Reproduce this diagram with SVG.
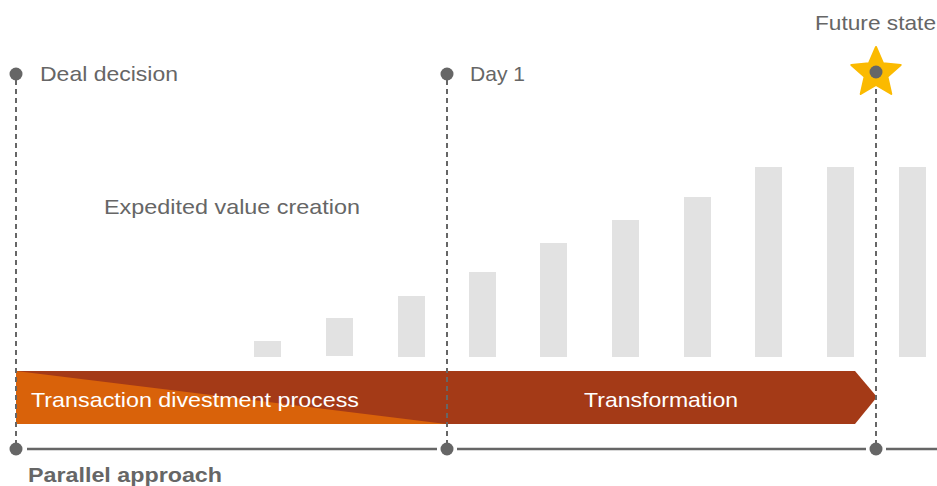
<svg xmlns="http://www.w3.org/2000/svg" width="937" height="486" viewBox="0 0 937 486">
<style>
.lbl{font-family:"Liberation Sans",Arial,sans-serif;font-size:21px;fill:#666}
.wt{font-family:"Liberation Sans",Arial,sans-serif;font-size:21px;fill:#fff}
.bar{fill:#e2e2e2}
.dash{stroke:#666;stroke-width:2;stroke-dasharray:5 4;fill:none}
.dot{fill:#666}
.tl{stroke:#666;stroke-width:2.5}
</style>
<g id="bars">
<rect class="bar" x="254" y="341" width="27" height="16"/>
<rect class="bar" x="326" y="318" width="27" height="38"/>
<rect class="bar" x="398" y="296" width="27" height="61"/>
<rect class="bar" x="469" y="272" width="27" height="85"/>
<rect class="bar" x="540" y="243" width="27" height="114"/>
<rect class="bar" x="612" y="220" width="27" height="137"/>
<rect class="bar" x="684" y="197" width="27" height="160"/>
<rect class="bar" x="755" y="167" width="27" height="190"/>
<rect class="bar" x="827" y="167" width="27" height="190"/>
<rect class="bar" x="899" y="167" width="27" height="190"/>
</g>
<g id="band">
<polygon points="16,371 855,371 877,397 855,424 16,424" fill="#a43a17"/>
<polygon points="16,371 446,424 16,424" fill="#d9620a"/>
<text class="wt" x="31" y="407" textLength="328" lengthAdjust="spacingAndGlyphs">Transaction divestment process</text>
<text class="wt" x="584" y="407" textLength="154" lengthAdjust="spacingAndGlyphs">Transformation</text>
</g>
<g id="connectors">
<line class="dash" x1="16" y1="80" x2="16" y2="443"/>
<line class="dash" x1="447" y1="80" x2="447" y2="443"/>
<line class="dash" x1="876" y1="80" x2="876" y2="443"/>
<line class="tl" x1="27" y1="449" x2="437" y2="449"/>
<line class="tl" x1="457" y1="449" x2="866" y2="449"/>
<line class="tl" x1="886" y1="449" x2="937" y2="449"/>
</g>
<g id="deal-decision">
<circle class="dot" cx="16" cy="74" r="6.5"/>
<text class="lbl" x="40" y="81" textLength="138" lengthAdjust="spacingAndGlyphs">Deal decision</text>
</g>
<g id="day1">
<circle class="dot" cx="447" cy="74" r="6.5"/>
<text class="lbl" x="470" y="81" textLength="55" lengthAdjust="spacingAndGlyphs">Day 1</text>
</g>
<g id="future-state">
<polygon points="876,47 883.1,63.3 900.7,65 887.4,76.7 891.3,94 876,85 860.7,94 864.6,76.7 851.3,65 868.9,63.3" fill="#fbba00" stroke="#fbba00" stroke-width="2" stroke-linejoin="round"/>
<circle class="dot" cx="876" cy="72" r="6.5"/>
<text class="lbl" x="815" y="30" textLength="121" lengthAdjust="spacingAndGlyphs">Future state</text>
</g>
<g id="expedited">
<text class="lbl" x="104" y="214" textLength="256" lengthAdjust="spacingAndGlyphs">Expedited value creation</text>
</g>
<g id="timeline">
<circle class="dot" cx="16" cy="449" r="6.5"/>
<circle class="dot" cx="447" cy="449" r="6.5"/>
<circle class="dot" cx="876" cy="449" r="6.5"/>
<text class="lbl" x="28" y="482" font-weight="bold" textLength="194" lengthAdjust="spacingAndGlyphs">Parallel approach</text>
</g>
</svg>
